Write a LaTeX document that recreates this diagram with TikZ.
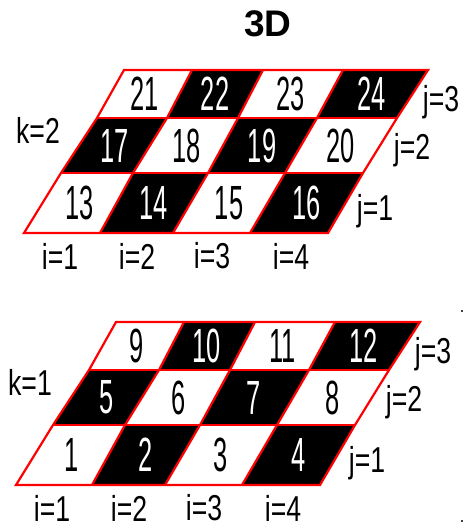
\documentclass[tikz,border=0pt]{standalone}
\usepackage{fontspec}
\setmainfont{Liberation Sans}
\newfontfamily\cadfont[FakeStretch=0.53]{Liberation Sans}
\newfontfamily\labfont[FakeStretch=0.74]{Liberation Sans}
\begin{document}
\begin{tikzpicture}[x=1pt,y=-1pt,
  num/.style={font=\cadfont\fontsize{48}{48}\selectfont, inner sep=0pt},
  lab/.style={font=\labfont\fontsize{36}{36}\selectfont, inner sep=0pt},
  gridline/.style={draw=red, line width=2.2pt, line join=miter}]
\useasboundingbox (0,0) rectangle (463,529);
\node[font=\bfseries\fontsize{37}{37}\selectfont, inner sep=0pt] (title) at (268,24) {3D};

\foreach \g/\dx/\dy/\k in {A/0/0/2,B/-8/252/1}{
 \begin{scope}[shift={(\dx,\dy)}]
  \foreach \yy/\xl [count=\r from 0] in {70/{124,192,263,343,428},118/{97,167,238,317,397},173/{61,133,208,285,363},233/{24,100,173,250,328}}{
    \foreach \xx [count=\c from 0] in \xl {\coordinate (\g-\r-\c) at (\xx,\yy);}
  }
  \foreach \r in {0,1,2}{
   \foreach \c in {0,1,2,3}{
    \pgfmathtruncatemacro\rr{\r+1}
    \pgfmathtruncatemacro\cc{\c+1}
    \pgfmathtruncatemacro\jj{3-\r}
    \pgfmathtruncatemacro\num{(\k-1)*12+(\jj-1)*4+\cc}
    \pgfmathtruncatemacro\odd{mod(\cc+\jj,2)}
    \ifnum\odd=1 \def\bg{black}\def\fg{white}\else \def\bg{white}\def\fg{black}\fi
    \fill[\bg] (\g-\r-\c) -- (\g-\r-\cc) -- (\g-\rr-\cc) -- (\g-\rr-\c) -- cycle;
    \node[num,text=\fg] (\g n\num) at (barycentric cs:\g-\r-\c=1,\g-\r-\cc=1,\g-\rr-\cc=1,\g-\rr-\c=1) {\num};
   }
  }
  \foreach \r in {1,2} \draw[gridline] (\g-\r-0) -- (\g-\r-4);
  \foreach \c in {1,2,3} \draw[gridline] (\g-0-\c) -- (\g-1-\c) -- (\g-2-\c) -- (\g-3-\c);
  \draw[gridline] (\g-0-0) -- (\g-0-4) -- (\g-1-4) -- (\g-2-4) -- (\g-3-4) -- (\g-3-0) -- (\g-2-0) -- (\g-1-0) -- cycle;
  \node[lab] (\g k) at (38,130) {k=\k};
  \node[lab] (\g j3) at (441,102) {j=3};
  \node[lab] (\g j2) at (412,150) {j=2};
  \node[lab] (\g j1) at (375,211) {j=1};
  \node[lab] (\g i1) at (60,256) {i=1};
  \node[lab] (\g i2) at (137,256) {i=2};
  \node[lab] (\g i3) at (212,256) {i=3};
  \node[lab] (\g i4) at (291,256) {i=4};
 \end{scope}
}
\fill[black!75] (460.5,309.5) rectangle (462.5,311.5);
\fill[black!75] (460.5,519.5) rectangle (462.5,521.5);
\end{tikzpicture}
\end{document}
